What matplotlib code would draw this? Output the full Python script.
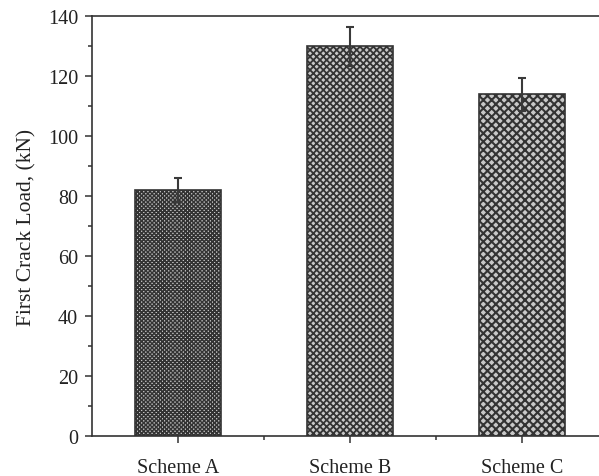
import matplotlib
matplotlib.use("Agg")
import matplotlib.pyplot as plt
from matplotlib.ticker import MultipleLocator, FixedLocator

categories = ["Scheme A", "Scheme B", "Scheme C"]
loads = [82, 130, 114]
errors = [4, 6.5, 5.5]
hatches = ["xxxxxxxx", "xxxxx", "xxxx"]
hatch_widths = [1.1, 1.3, 1.5]

plt.rcParams["font.family"] = ["Liberation Serif", "DejaVu Serif"]
plt.rcParams["hatch.color"] = "#222222"

fig = plt.figure(figsize=(5.99, 4.77), dpi=100)
ax = fig.add_axes([92/599, 1-437/477, 516/599, 420/477])

x = list(range(len(categories)))
for xi, v, h, hw in zip(x, loads, hatches, hatch_widths):
    plt.rcParams["hatch.linewidth"] = hw
    ax.bar(xi, v, width=0.505, color="#c8c8c8", edgecolor="#333333",
           linewidth=1.2, hatch=h, zorder=2)
ax.errorbar(x, loads, yerr=errors, fmt="none", ecolor="#3a3a3a",
            elinewidth=1.5, capsize=3, capthick=1.5, zorder=3)

ax.set_xlim(-0.5, 2.5)
ax.set_ylim(0, 140)
ax.yaxis.set_major_locator(MultipleLocator(20))
ax.yaxis.set_minor_locator(MultipleLocator(10))
ax.set_xticks(x)
ax.set_xticklabels(categories)
ax.xaxis.set_minor_locator(FixedLocator([0.5, 1.5]))

for s in ["left", "bottom", "top"]:
    ax.spines[s].set_color("#333333")
    ax.spines[s].set_linewidth(1.2)
ax.spines["right"].set_visible(False)

ax.tick_params(axis="both", which="major", direction="out", length=5,
               width=1.1, color="#333333", labelsize=14.5, labelcolor="#222222")
ax.tick_params(axis="both", which="minor", direction="out", length=3,
               width=1.1, color="#333333")
ax.tick_params(axis="x", which="major", pad=11)
ax.tick_params(axis="y", which="major", pad=5)
ax.tick_params(top=False, which="both")

ax.set_ylabel("First Crack Load, (kN)", fontsize=15.5, color="#222222", labelpad=8)

fig.savefig("out.png", dpi=100)
